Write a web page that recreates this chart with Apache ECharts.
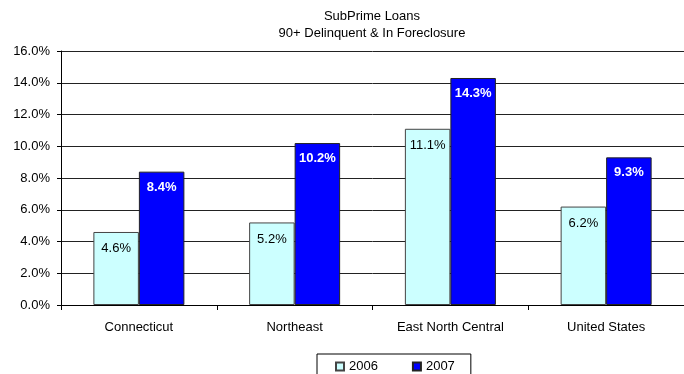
<!DOCTYPE html>
<html>
<head>
<meta charset="utf-8">
<style>
  html, body { margin: 0; padding: 0; background: #fff; overflow: hidden; }
  #chart { width: 684px; height: 374px; }
</style>
<script src="https://cdn.jsdelivr.net/npm/echarts@6/dist/echarts.min.js"></script>
</head>
<body>
<div id="chart"></div>
<script>
// Regions compared
const categories = ['Connecticut', 'Northeast', 'East North Central', 'United States'];
// Share of subprime loans 90+ days delinquent or in foreclosure (%)
const values2006 = [4.6, 5.2, 11.1, 6.2];
const values2007 = [8.4, 10.2, 14.3, 9.3];
const seriesNames = ['2006', '2007'];
const titleLines = ['SubPrime Loans', '90+ Delinquent & In Foreclosure'];

const FONT = '"Liberation Sans", Arial, sans-serif';
const FS = 13;
const pct = v => Number(v).toFixed(1) + '%';

const chart = echarts.init(document.getElementById('chart'), null, { renderer: 'canvas' });

chart.setOption({
  animation: false,
  backgroundColor: '#ffffff',
  title: {
    text: titleLines.join('\n'),
    left: 372,
    textAlign: 'center',
    top: 8,
    padding: 0,
    textStyle: { fontFamily: FONT, fontSize: FS, fontWeight: 'normal', color: '#000', lineHeight: 17 }
  },
  legend: {
    data: seriesNames,
    icon: 'rect',
    left: 317,
    top: 354,
    orient: 'horizontal',
    itemWidth: 8,
    itemHeight: 8,
    itemGap: 34,
    padding: [6, 16, 8, 18],
    borderColor: '#000',
    borderWidth: 1,
    backgroundColor: '#fff',
    textStyle: { fontFamily: FONT, fontSize: FS, color: '#000' }
  },
  // The plot area runs a little past the right edge of the canvas
  grid: { left: 61, right: -8, top: 51, bottom: 69, containLabel: false },
  xAxis: {
    type: 'category',
    data: categories,
    axisLine: { show: true, lineStyle: { color: '#000', width: 1 } },
    axisTick: { show: true, alignWithLabel: false, length: 5, lineStyle: { color: '#000' } },
    axisLabel: { fontFamily: FONT, fontSize: FS, color: '#000', margin: 16 },
    splitLine: { show: false }
  },
  yAxis: {
    type: 'value',
    min: 0,
    max: 16,
    interval: 2,
    axisLine: { show: true, lineStyle: { color: '#000', width: 1 } },
    axisTick: { show: true, length: 4, lineStyle: { color: '#000' } },
    axisLabel: { fontFamily: FONT, fontSize: FS, color: '#000', margin: 11, formatter: pct },
    splitLine: { show: true, lineStyle: { color: '#222', width: 1 } }
  },
  series: [
    {
      name: seriesNames[0],
      type: 'bar',
      data: values2006,
      barWidth: 45.5,
      barGap: '0%',
      itemStyle: { color: '#CCFFFF', borderColor: '#444', borderWidth: 1 },
      label: {
        show: true,
        position: 'insideTop',
        distance: 10,
        formatter: p => pct(p.value),
        fontFamily: FONT, fontSize: FS, color: '#000'
      }
    },
    {
      name: seriesNames[1],
      type: 'bar',
      data: values2007,
      barWidth: 45.5,
      barGap: '0%',
      itemStyle: { color: '#0000FF', borderColor: '#222', borderWidth: 1 },
      label: {
        show: true,
        position: 'insideTop',
        distance: 9,
        formatter: p => pct(p.value),
        fontFamily: FONT, fontSize: FS, fontWeight: 'bold', color: '#fff'
      }
    }
  ]
});
</script>
</body>
</html>
